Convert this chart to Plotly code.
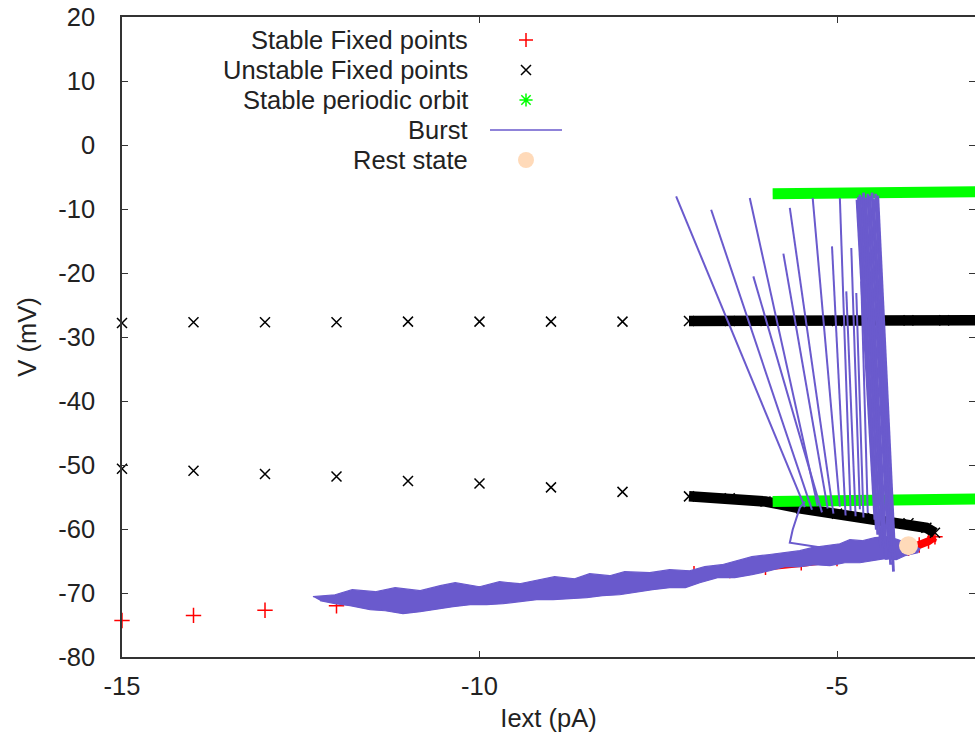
import plotly.graph_objects as go

# ---------------- data ----------------
# Stable fixed points (red +)
stable_x = [-15, -14, -13, -12, -11, -10, -9, -8]
stable_v = [-74.3, -73.5, -72.7, -72.0, -71.1, -70.2, -69.2, -68.2]
stable_dense_x = [-7.0, -6.5, -6.0, -5.5, -5.0, -4.5, -4.0, -3.85, -3.72, -3.63]
stable_dense_v = [-67.0, -66.5, -66.0, -65.3, -64.6, -63.8, -63.0, -62.5, -61.9, -61.2]

# Unstable fixed points (black x)
unstable_up_x = [-15, -14, -13, -12, -11, -10, -9, -8]
unstable_up_v = [-27.8, -27.7, -27.7, -27.7, -27.6, -27.6, -27.6, -27.6]
unstable_up_dense_x = [-7.07, -6.5, -6.0, -5.5, -5.0, -4.5, -4.0, -3.5, -3.0]
unstable_up_dense_v = [-27.5, -27.5, -27.5, -27.5, -27.5, -27.4, -27.4, -27.4, -27.4]
unstable_mid_x = [-15, -14, -13, -12, -11, -10, -9, -8]
unstable_mid_v = [-50.6, -50.9, -51.4, -51.8, -52.5, -52.9, -53.5, -54.2]
unstable_mid_dense_x = [-7.07, -6.5, -6.0, -5.5, -5.0, -4.5, -4.0, -3.75, -3.63]
unstable_mid_dense_v = [-54.9, -55.2, -55.7, -56.8, -57.6, -58.3, -59.1, -59.8, -60.6]

# Stable periodic orbit (green *), max and min of V
periodic_top_x = [-5.90, -3.77, -3.77, -3.00]
periodic_top_v = [-7.6, -7.6, -7.3, -7.3]
periodic_low_x = [-5.90, -4.17, -4.17, -3.00]
periodic_low_v = [-55.7, -55.7, -55.3, -55.3]

# Burst trajectory: quiescent noisy band (upper edge left->right, lower edge right->left)
band_upper_x = [-12.33, -12.02, -11.78, -11.46, -11.18, -10.83, -10.55, -10.34, -10.00, -9.72,
                -9.44, -9.16, -8.95, -8.67, -8.46, -8.18, -7.97, -7.62, -7.34, -7.06,
                -6.85, -6.61, -6.39, -6.19, -5.97, -5.73, -5.52, -5.35, -5.17, -4.96,
                -4.82, -4.65, -4.47, -4.29, -4.15, -3.96, -3.84]
band_upper_v = [-70.58, -70.27, -69.48, -69.80, -69.17, -69.64, -68.86, -68.39, -69.02, -68.23,
                -68.55, -67.92, -67.45, -67.77, -66.98, -67.30, -66.67, -66.83, -66.36, -66.52,
                -65.89, -65.58, -64.95, -64.33, -64.02, -63.70, -63.39, -62.92, -62.61, -62.30,
                -61.67, -61.83, -61.36, -61.20, -61.67, -62.45, -63.08]
band_lower_x = [-3.87, -4.05, -4.17, -4.33, -4.50, -4.68, -4.89, -5.10, -5.31, -5.52,
                -5.73, -5.94, -6.19, -6.43, -6.67, -6.92, -7.12, -7.34, -7.58, -7.83,
                -8.04, -8.28, -8.50, -8.74, -8.97, -9.20, -9.44, -9.67, -9.90, -10.13,
                -10.37, -10.61, -10.83, -11.07, -11.32, -11.53, -11.81, -12.02, -12.23]
band_lower_v = [-63.70, -64.17, -64.80, -64.64, -64.95, -65.27, -65.27, -65.73, -65.58, -65.89,
                -65.89, -66.52, -67.14, -67.61, -67.61, -68.39, -69.17, -69.17, -69.48, -69.95,
                -70.27, -70.42, -70.73, -70.89, -71.05, -71.05, -71.36, -71.67, -71.83, -71.83,
                -72.14, -72.61, -72.92, -73.23, -72.77, -72.61, -71.98, -71.67, -71.20]

# Burst: escape loop from the band towards the spiking region
loop_x = [-5.20, -5.66, -5.62, -5.56, -5.52, -5.45]
loop_v = [-62.92, -62.14, -60.11, -58.08, -56.67, -55.73]

# Burst: separate spikes (bottom -> top)
spike_top_x = [-7.25, -6.76, -6.22, -6.17, -5.75, -5.66, -5.34, -5.07, -4.96, -4.87, -4.80, -4.73, -4.66]
spike_top_v = [-8.03, -10.11, -8.28, -20.53, -16.98, -9.84, -8.28, -15.84, -8.28, -22.87, -16.09, -23.13, -21.31]
spike_bot_x = [-5.45, -5.35, -5.27, -5.21, -5.13, -5.05, -4.96, -4.88, -4.81, -4.74, -4.68, -4.63, -4.57]
spike_bot_v = [-56.6, -57.0, -56.4, -57.4, -56.8, -57.6, -56.5, -57.9, -57.2, -58.0, -56.9, -58.2, -57.5]

# Burst: closely packed final spikes (bottom -> top)
dense_top_x = [-4.72, -4.70, -4.68, -4.65, -4.63, -4.60, -4.57, -4.54, -4.51, -4.49, -4.46, -4.43]
dense_top_v = [-8.55, -8.10, -7.77, -8.08, -7.45, -8.23, -7.61, -7.92, -7.45, -8.39, -7.61, -7.92]
dense_bot_x = [-4.47, -4.45, -4.43, -4.39, -4.36, -4.33, -4.31, -4.28, -4.25, -4.24, -4.21, -4.19]
dense_bot_v = [-58.55, -60.10, -60.89, -62.92, -62.45, -64.17, -64.80, -63.23, -65.58, -63.70, -66.67, -64.80]

# Rest state
rest_x = [-4.0]
rest_v = [-62.6]

legend_labels = ["Stable Fixed points", "Unstable Fixed points", "Stable periodic orbit",
                 "Burst", "Rest state"]

x_ticks = [-15, -10, -5]
y_ticks = [-80, -70, -60, -50, -40, -30, -20, -10, 0, 10, 20]

# ---------------- styles ----------------
RED = "#ff0000"
BLACK = "#000000"
GREEN = "#00ff00"
BURST = "#6a5acd"
PEACH = "#ffdab9"
FONT = "Liberation Sans, Arial, sans-serif"
TXT = "#222222"

fig = go.Figure()

# stable fixed points
fig.add_trace(go.Scatter(x=stable_x, y=stable_v, mode="markers", name=legend_labels[0],
                         showlegend=False, cliponaxis=False,
                         marker=dict(symbol="cross-thin", size=11, line=dict(color=RED, width=1.5))))
fig.add_trace(go.Scatter(x=stable_dense_x, y=stable_dense_v, mode="lines+markers", name=legend_labels[0],
                         showlegend=False, line=dict(color=RED, width=8),
                         marker=dict(symbol="cross-thin", size=11, line=dict(color=RED, width=1.5))))

# unstable fixed points
for xs, vs, dense in [(unstable_up_x, unstable_up_v, False), (unstable_mid_x, unstable_mid_v, False),
                      (unstable_up_dense_x, unstable_up_dense_v, True),
                      (unstable_mid_dense_x, unstable_mid_dense_v, True)]:
    fig.add_trace(go.Scatter(x=xs, y=vs, mode="lines+markers" if dense else "markers",
                             name=legend_labels[1], showlegend=False, cliponaxis=False,
                             line=dict(color=BLACK, width=10.5),
                             marker=dict(symbol="x-thin", size=10, line=dict(color=BLACK, width=1.5))))

# stable periodic orbit
for xs, vs in [(periodic_top_x, periodic_top_v), (periodic_low_x, periodic_low_v)]:
    fig.add_trace(go.Scatter(x=xs, y=vs, mode="lines", name=legend_labels[2], showlegend=False,
                             line=dict(color=GREEN, width=11)))

# burst: band
fig.add_trace(go.Scatter(x=band_upper_x + band_lower_x, y=band_upper_v + band_lower_v,
                         mode="lines", fill="toself", fillcolor=BURST, name=legend_labels[3],
                         showlegend=False, line=dict(color=BURST, width=1.2)))
# burst: loop and separate spikes
bx, bv = list(loop_x) + [None], list(loop_v) + [None]
for xt, vt, xb, vb in zip(spike_top_x, spike_top_v, spike_bot_x, spike_bot_v):
    bx += [xb, xt, None]
    bv += [vb, vt, None]
fig.add_trace(go.Scatter(x=bx, y=bv, mode="lines", name=legend_labels[3], showlegend=False,
                         connectgaps=False, line=dict(color=BURST, width=2)))
# burst: packed final spikes
dx, dv = [], []
for xt, vt, xb, vb in zip(dense_top_x, dense_top_v, dense_bot_x, dense_bot_v):
    dx += [xb, xt, None]
    dv += [vb, vt, None]
fig.add_trace(go.Scatter(x=dx, y=dv, mode="lines", name=legend_labels[3], showlegend=False,
                         connectgaps=False, line=dict(color=BURST, width=2.8)))

# rest state
fig.add_trace(go.Scatter(x=rest_x, y=rest_v, mode="markers", name=legend_labels[4], showlegend=False,
                         marker=dict(symbol="circle", size=19, color=PEACH)))

# legend keys (symbols only; labels drawn as right-aligned text like gnuplot)
legend_styles = [
    dict(mode="markers", marker=dict(symbol="cross-thin", size=10, line=dict(color=RED, width=1.5))),
    dict(mode="markers", marker=dict(symbol="x-thin", size=10, line=dict(color=BLACK, width=1.5))),
    dict(mode="markers", marker=dict(symbol="asterisk", size=11, line=dict(color=GREEN, width=1.5))),
    dict(mode="lines", line=dict(color=BURST, width=1.5)),
    dict(mode="markers", marker=dict(symbol="circle", size=18, color=PEACH)),
]
for st in legend_styles:
    fig.add_trace(go.Scatter(x=[None], y=[None], name=" ", showlegend=True, **st))

W, H = 975, 751
L, R, T, B = 122, 0, 17, 94
pw, ph = W - L - R, H - T - B

row_y = [39.5, 69.5, 99.5, 130, 160]
annotations = []
for lab, yy in zip(legend_labels, row_y):
    annotations.append(dict(text=lab, xref="paper", yref="paper",
                            x=(470 - L) / pw, y=(H - B - yy) / ph,
                            xanchor="right", yanchor="middle", showarrow=False,
                            font=dict(family=FONT, size=25.5, color=TXT)))

axis_common = dict(showline=True, linecolor="#333333", linewidth=1.5, mirror="ticks",
                   ticks="inside", ticklen=6, tickwidth=1.2, tickcolor="#333333",
                   showgrid=False, zeroline=False,
                   tickfont=dict(family=FONT, size=25.5, color=TXT))

fig.update_layout(
    width=W, height=H,
    margin=dict(l=L, r=R, t=T, b=B, pad=0, autoexpand=False),
    paper_bgcolor="white", plot_bgcolor="white",
    font=dict(family=FONT, color=TXT),
    xaxis=dict(range=[-15, -3.07], tickmode="array", tickvals=x_ticks,
               ticktext=[str(t) for t in x_ticks], ticklabelstandoff=6,
               title=dict(text="Iext (pA)", font=dict(family=FONT, size=25.5, color=TXT), standoff=10),
               **axis_common),
    yaxis=dict(range=[-80, 20], tickmode="array", tickvals=y_ticks,
               ticktext=[str(t) for t in y_ticks], ticklabelstandoff=20,
               title=dict(text="V (mV)", font=dict(family=FONT, size=25.5, color=TXT), standoff=14),
               **axis_common),
    legend=dict(x=(485 - L) / pw, y=(H - B - 20) / ph, xanchor="left", yanchor="top",
                itemwidth=72, font=dict(family=FONT, size=20.77), bgcolor="rgba(0,0,0,0)",
                borderwidth=0, tracegroupgap=0, itemclick=False, itemdoubleclick=False),
    annotations=annotations,
    showlegend=True,
)

fig.write_html("out.html")
